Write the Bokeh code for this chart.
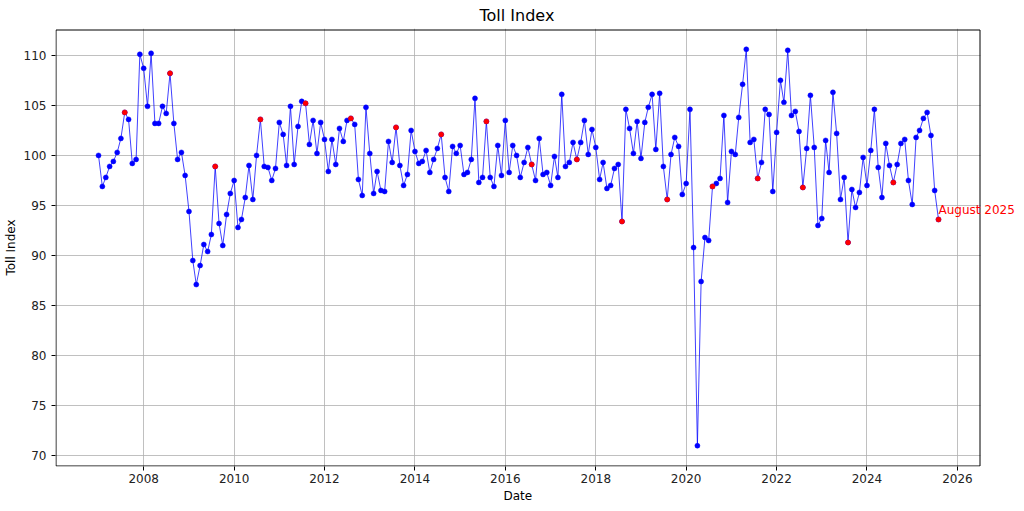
import pandas as pd
from bokeh.plotting import figure
from bokeh.models import (FixedTicker, DatetimeTickFormatter, Range1d, ColumnDataSource, Label,
                          BoxAnnotation, Title)
from bokeh.embed import file_html
from bokeh.resources import INLINE

start_month = "2007-01-01"
vals_2007 = [100.0, 96.9, 97.8, 98.9, 99.4, 100.3, 101.7, 104.3, 103.6, 99.2, 99.6, 110.1]
vals_2008 = [108.7, 104.9, 110.2, 103.2, 103.2, 104.9, 104.2, 108.2, 103.2, 99.6, 100.3, 98.0]
vals_2009 = [94.4, 89.5, 87.1, 89.0, 91.1, 90.4, 92.1, 98.9, 93.2, 91.0, 94.1, 96.2]
vals_2010 = [97.5, 92.8, 93.6, 95.8, 99.0, 95.6, 100.0, 103.6, 98.9, 98.8, 97.5, 98.7]
vals_2011 = [103.3, 102.1, 99.0, 104.9, 99.1, 102.9, 105.4, 105.2, 101.1, 103.5, 100.2, 103.3]
vals_2012 = [101.6, 98.4, 101.6, 99.1, 102.7, 101.4, 103.5, 103.7, 103.1, 97.6, 96.0, 104.8]
vals_2013 = [100.2, 96.2, 98.4, 96.5, 96.4, 101.4, 99.3, 102.8, 99.0, 97.0, 98.1, 102.5]
vals_2014 = [100.4, 99.2, 99.4, 100.5, 98.3, 99.6, 100.7, 102.1, 97.8, 96.4, 100.9, 100.2]
vals_2015 = [101.0, 98.1, 98.3, 99.6, 105.7, 97.3, 97.8, 103.4, 97.8, 96.9, 101.0, 98.0]
vals_2016 = [103.5, 98.3, 101.0, 100.0, 97.8, 99.3, 100.8, 99.1, 97.5, 101.7, 98.1, 98.3]
vals_2017 = [97.0, 99.9, 97.8, 106.1, 98.9, 99.3, 101.3, 99.6, 101.3, 103.5, 100.1, 102.6]
vals_2018 = [100.8, 97.6, 99.3, 96.7, 97.0, 98.7, 99.1, 93.4, 104.6, 102.7, 100.2, 103.4]
vals_2019 = [99.7, 103.3, 104.8, 106.1, 100.6, 106.2, 98.9, 95.6, 100.1, 101.8, 100.9, 96.1]
vals_2020 = [97.2, 104.6, 90.8, 71.0, 87.4, 91.8, 91.5, 96.9, 97.2, 97.7, 104.0, 95.3]
vals_2021 = [100.4, 100.1, 103.8, 107.1, 110.6, 101.3, 101.6, 97.7, 99.3, 104.6, 104.1, 96.4]
vals_2022 = [102.3, 107.5, 105.3, 110.5, 104.0, 104.4, 102.4, 96.8, 100.7, 106.0, 100.8, 93.0]
vals_2023 = [93.7, 101.5, 98.3, 106.3, 102.2, 95.6, 97.8, 91.3, 96.6, 94.8, 96.3, 99.8]
vals_2024 = [97.0, 100.5, 104.6, 98.8, 95.8, 101.2, 99.0, 97.3, 99.1, 101.2, 101.6, 97.5]
vals_2025 = [95.1, 101.8, 102.5, 103.7, 104.3, 102.0, 96.5, 93.6]
tick_years = list(range(2008, 2027, 2))
y_ticks = [70, 75, 80, 85, 90, 95, 100, 105, 110]
highlight_month = 8
annotation_text = "August 2025"

values = (vals_2007 + vals_2008 + vals_2009 + vals_2010 + vals_2011 + vals_2012 +
          vals_2013 + vals_2014 + vals_2015 + vals_2016 + vals_2017 + vals_2018 +
          vals_2019 + vals_2020 + vals_2021 + vals_2022 + vals_2023 + vals_2024 + vals_2025)
dates = pd.date_range(start_month, periods=len(values), freq="MS")
df = pd.DataFrame({"date": dates, "val": values})
aug = df[df["date"].dt.month == highlight_month]

src = ColumnDataSource(df)
src_aug = ColumnDataSource(aug)

# visible axes box (matplotlib-like 5% margins)
span = dates[-1] - dates[0]
x0 = (dates[0] - span * 0.05).value / 1e6
x1 = (dates[-1] + span * 0.05).value / 1e6
vspan = max(values) - min(values)
y0 = min(values) - vspan * 0.05
y1 = max(values) + vspan * 0.05

# Bokeh frame: 1px padding round the drawn axes box, and extended to the right
# so that the annotation text is not clipped
VIS_W, VIS_H = 924, 436
EXT_W = VIS_W + 39
dx = (x1 - x0) / VIS_W
dy = (y1 - y0) / VIS_H
xr = Range1d(x0 - dx, x0 - dx + dx * EXT_W)
yr = Range1d(y0 - dy, y1 + dy)

FONT = "DejaVu Sans"
p = figure(x_axis_type="datetime", frame_width=EXT_W, frame_height=VIS_H + 2,
           output_backend="svg", toolbar_location=None,
           x_range=xr, y_range=yr,
           min_border_left=52, min_border_right=0, min_border_top=0, min_border_bottom=0)
p.outline_line_color = None

title = Title(text="Toll Index", text_font=FONT, text_font_size="16px", text_font_style="normal",
              text_color="black", align="left", offset=424, standoff=7)
p.add_layout(title, "above")

p.xaxis.ticker = FixedTicker(ticks=[pd.Timestamp(f"{y}-01-01").value / 1e6 for y in tick_years])
p.xaxis.formatter = DatetimeTickFormatter(years="%Y", months="%Y", days="%Y", hours="%Y",
                                          hourmin="%Y", minutes="%Y", minsec="%Y",
                                          seconds="%Y", milliseconds="%Y", microseconds="%Y")
p.yaxis.ticker = FixedTicker(ticks=y_ticks)
p.yaxis.axis_label = "Toll Index"
for ax in (p.xaxis[0], p.yaxis[0]):
    ax.axis_label_text_font = FONT
    ax.axis_label_text_font_size = "12px"
    ax.axis_label_text_font_style = "normal"
    ax.axis_label_text_color = "black"
    ax.major_label_text_font = FONT
    ax.major_label_text_font_size = "12px"
    ax.major_label_text_color = "#222222"
    ax.major_tick_out = 4
    ax.major_tick_in = 0
    ax.minor_tick_out = 0
    ax.minor_tick_in = 0
    ax.axis_line_color = None
    ax.major_tick_line_color = "black"
p.xaxis.major_label_standoff = 3
p.yaxis.major_label_standoff = 5
p.yaxis.axis_label_standoff = 3

xlab = Title(text="Date", text_font=FONT, text_font_size="12px", text_font_style="normal",
             text_color="black", align="left", offset=448, standoff=2)
p.add_layout(xlab, "below")

p.grid.grid_line_color = "#b0b0b0"
p.grid.grid_line_width = 0.8

p.line("date", "val", source=src, line_color="blue", line_width=1, line_alpha=0.75)
p.scatter("date", "val", source=src, size=5, fill_color="blue", line_color="blue", line_width=0.5)
p.scatter("date", "val", source=src_aug, size=5, fill_color="red", line_color="red", line_width=0.5)

# white cover right of the axes box, then the axes border (half-pixel aligned for crisp lines)
cover = BoxAnnotation(left=x1, fill_color="white", fill_alpha=1, line_color=None,
                      level="annotation")
p.add_layout(cover)
border = BoxAnnotation(left=x0 - 0.5 * dx, right=x1 - 0.5 * dx,
                       bottom=y0 - 0.5 * dy, top=y1 - 0.5 * dy, fill_alpha=0,
                       line_color="black", line_alpha=1, line_width=1, level="annotation")
p.add_layout(border)

lbl = Label(x=dates[-1].value / 1e6, y=values[-1], text=annotation_text, text_color="red",
            text_font=FONT, text_font_size="12px", text_align="left",
            text_baseline="alphabetic", y_offset=9, level="overlay")
p.add_layout(lbl)

open("out.html", "w").write(file_html(p, INLINE))
